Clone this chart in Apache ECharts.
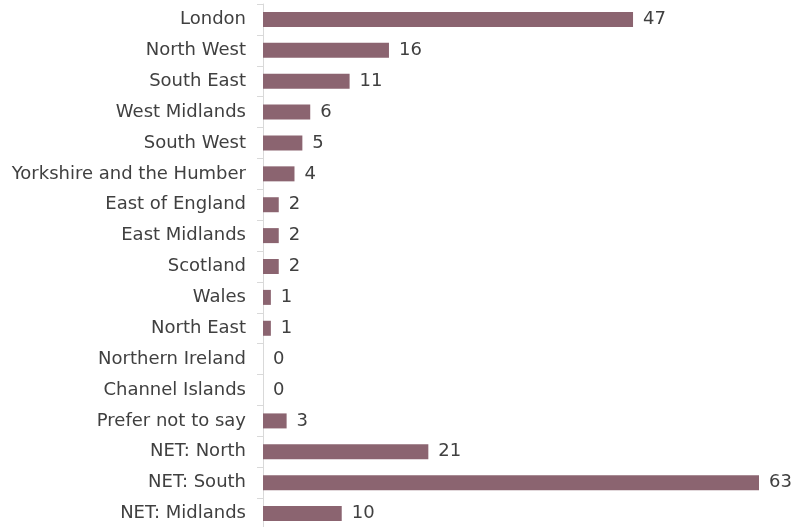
<!DOCTYPE html>
<html>
<head>
<meta charset="utf-8">
<style>
  html, body { margin: 0; padding: 0; background: #ffffff; }
  #chart { width: 794px; height: 527px; }
</style>
<script src="https://cdn.jsdelivr.net/npm/echarts@6/dist/echarts.min.js"></script>
</head>
<body>
<div id="chart"></div>
<script>
// Regions, top to bottom
const regions = [
  'London', 'North West', 'South East', 'West Midlands', 'South West',
  'Yorkshire and the Humber', 'East of England', 'East Midlands', 'Scotland',
  'Wales', 'North East', 'Northern Ireland', 'Channel Islands',
  'Prefer not to say', 'NET: North', 'NET: South', 'NET: Midlands'
];
// Counts per region
const counts = [47, 16, 11, 6, 5, 4, 2, 2, 2, 1, 1, 0, 0, 3, 21, 63, 10];

const chart = echarts.init(document.getElementById('chart'), null, { renderer: 'canvas' });

const fontFamily = '"DejaVu Sans", "Open Sans", sans-serif';

chart.setOption({
  animation: false,
  grid: {
    left: 263, right: 35, top: 4, height: 525,
    containLabel: false,
    outerBoundsMode: 'none'
  },
  xAxis: {
    type: 'value',
    min: 0,
    max: 63,
    show: false
  },
  yAxis: {
    type: 'category',
    inverse: true,
    data: regions,
    axisLine: { show: true, lineStyle: { color: '#d9d9d9', width: 1 } },
    axisTick: { show: true, length: 6, lineStyle: { color: '#d9d9d9' } },
    axisLabel: {
      color: '#404040',
      fontSize: 18,
      fontFamily: fontFamily,
      margin: 17
    },
    splitLine: { show: false }
  },
  series: [{
    type: 'bar',
    data: counts,
    barWidth: 15,
    itemStyle: { color: '#8b6470' },
    label: {
      show: true,
      position: 'right',
      distance: 10,
      color: '#404040',
      fontSize: 18,
      fontFamily: fontFamily
    }
  }]
});
</script>
</body>
</html>
